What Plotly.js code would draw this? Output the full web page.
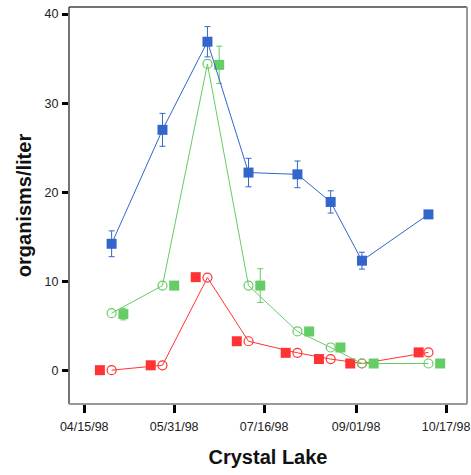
<!DOCTYPE html>
<html>
<head>
<meta charset="utf-8">
<script src="https://cdn.plot.ly/plotly-3.0.1.min.js"></script>
<style>html,body{margin:0;padding:0;background:#fff;}#chart{width:471px;height:475px;}</style>
</head>
<body>
<div id="chart"></div>
<script>
// Sample dates
const circleDates   = ['1998-04-29','1998-05-25','1998-06-17','1998-07-08','1998-08-02','1998-08-19','1998-09-04','1998-10-08'];
const redSqDates    = ['1998-04-23','1998-05-19','1998-06-11','1998-07-02','1998-07-27','1998-08-13','1998-08-29','1998-10-03'];
const greenSqDates  = ['1998-05-05','1998-05-31','1998-06-23','1998-07-14','1998-08-08','1998-08-24','1998-09-10','1998-10-14'];

// Values (organisms/liter)
const blueValues    = [14.2, 27.0, 36.9, 22.2, 22.0, 18.9, 12.3, 17.5];
const blueErr       = [1.45, 1.85, 1.7, 1.6, 1.5, 1.25, 0.95, 0.35];
const greenCircle   = [6.4, 9.5, 34.4, 9.5, 4.35, 2.55, 0.75, 0.75];
const greenSquare   = [6.3, 9.5, 34.3, 9.5, 4.35, 2.55, 0.75, 0.75];
const greenSqErr    = [0.65, 0, 2.1, 1.9, 0, 0, 0, 0];
const redCircle     = [0, 0.55, 10.4, 3.25, 1.95, 1.25, 0.75, 2.0];
const redSquare     = [0, 0.55, 10.45, 3.25, 1.95, 1.25, 0.75, 2.0];

// Axis ticks
const xTickVals  = ['1998-04-15','1998-05-31','1998-07-16','1998-09-01','1998-10-17'];
const xTickText  = ['04/15/98','05/31/98','07/16/98','09/01/98','10/17/98'];
const yTickVals  = [0, 10, 20, 30, 40];

const BLUE = '#3366CC', GREEN = '#66CC66', RED = '#FF3333';

const traces = [
  {x: redSqDates, y: redSquare, mode: 'markers', type: 'scatter',
   marker: {symbol: 'square', size: 10, color: RED}},
  {x: circleDates, y: redCircle, mode: 'lines+markers', type: 'scatter',
   line: {color: RED, width: 1},
   marker: {symbol: 'circle-open', size: 9, color: RED, line: {width: 1.2, color: RED}}},
  {x: circleDates, y: greenCircle, mode: 'lines+markers', type: 'scatter',
   line: {color: GREEN, width: 1},
   marker: {symbol: 'circle-open', size: 9, color: GREEN, line: {width: 1.2, color: GREEN}}},
  {x: greenSqDates, y: greenSquare, mode: 'markers', type: 'scatter',
   marker: {symbol: 'square', size: 10, color: GREEN},
   error_y: {type: 'data', array: greenSqErr, visible: true, color: GREEN, thickness: 1, width: 3}},
  {x: circleDates, y: blueValues, mode: 'lines+markers', type: 'scatter',
   line: {color: BLUE, width: 1},
   marker: {symbol: 'square', size: 10, color: BLUE},
   error_y: {type: 'data', array: blueErr, visible: true, color: BLUE, thickness: 1, width: 3}}
];

const layout = {
  width: 471, height: 475,
  margin: {l: 69, r: 4, t: 7, b: 71},
  paper_bgcolor: '#fff', plot_bgcolor: '#fff',
  showlegend: false,
  font: {family: 'Liberation Sans, Arial, sans-serif', color: '#222'},
  xaxis: {
    type: 'date',
    range: ['1998-04-07 05:00', '1998-10-27 17:00'],
    tickmode: 'array', tickvals: xTickVals, ticktext: xTickText,
    ticks: 'outside', ticklen: 8, tickwidth: 3, tickcolor: '#000',
    ticklabelstandoff: 3,
    tickfont: {size: 12.5, color: '#222'},
    showgrid: false, zeroline: false, showline: false,
    title: {text: 'Crystal Lake', font: {size: 20, weight: 'bold', color: '#111'}, standoff: 16}
  },
  yaxis: {
    range: [-3.8, 40.8],
    tickmode: 'array', tickvals: yTickVals,
    ticks: 'outside', ticklen: 6, tickwidth: 3, tickcolor: '#000',
    ticklabelstandoff: 1,
    tickfont: {size: 12.5, color: '#222'},
    showgrid: false, zeroline: false, showline: false,
    title: {text: 'organisms/liter', font: {size: 20, weight: 'bold', color: '#111'}, standoff: 7}
  },
  shapes: [
    {type: 'line', xref: 'paper', yref: 'paper', x0: 0, x1: 0, y0: 0, y1: 1, line: {color: '#444', width: 1.5}},
    {type: 'line', xref: 'paper', yref: 'paper', x0: 0, x1: 1, y0: 1, y1: 1, line: {color: '#444', width: 1.5}},
    {type: 'line', xref: 'paper', yref: 'paper', x0: 1, x1: 1, y0: 0, y1: 1, line: {color: '#999', width: 2}},
    {type: 'line', xref: 'paper', yref: 'paper', x0: 0, x1: 1, y0: 0, y1: 0, line: {color: '#999', width: 2}}
  ]
};

Plotly.newPlot('chart', traces, layout, {displayModeBar: false, staticPlot: true});
</script>
</body>
</html>
